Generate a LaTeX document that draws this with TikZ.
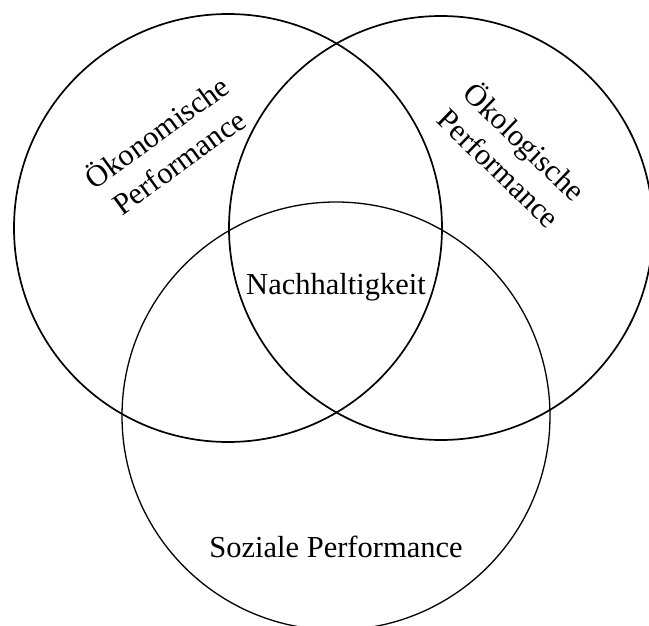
\documentclass[tikz,border=0pt]{standalone}
\usepackage{fontspec}
\setmainfont{Liberation Serif}
\begin{document}
\begin{tikzpicture}[x=1pt,y=-1pt,
  ring/.style={draw=black,line width=1.7pt},
  ringthin/.style={draw=black,line width=1.3pt},
  lbl/.style={font=\fontsize{30.5}{37}\selectfont,inner sep=0pt,align=center}]
  \useasboundingbox (0,0) rectangle (649,626);
  % three overlapping spheres of sustainability
  \node[ring,circle,minimum size=428pt,inner sep=0pt] (oek) at (228,228) {};
  \node[ring,circle,minimum size=424pt,inner sep=0pt] (oeko) at (441,228) {};
  \node[ringthin,circle,minimum size=428pt,inner sep=0pt] (soz) at (336,416) {};
  % labels
  \node[lbl,rotate=36] (toek) at (167,146) {Ökonomische\\Performance};
  \node[lbl,rotate=-44] (toeko) at (513,154) {Ökologische\\Performance};
  \node[lbl] (tnach) at (336,287) {Nachhaltigkeit};
  \node[lbl] (tsoz) at (336,547) {Soziale Performance};
\end{tikzpicture}
\end{document}
